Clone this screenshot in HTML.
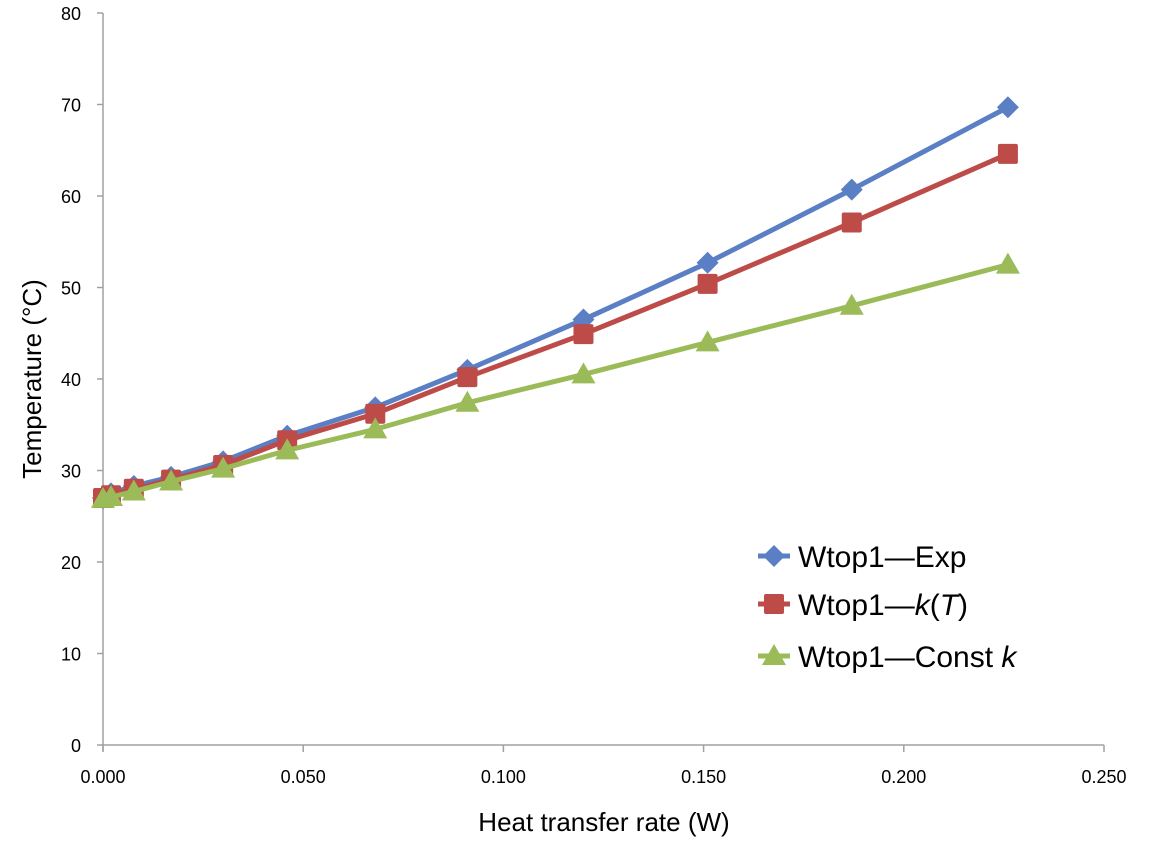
<!DOCTYPE html>
<html><head><meta charset="utf-8"><style>
html,body{margin:0;padding:0;background:#fff;}
svg{display:block;font-family:"Liberation Sans","DejaVu Sans",sans-serif;}
</style></head><body>
<svg id="chart" width="1150" height="851" viewBox="0 0 1150 851"></svg>
<script>
const xValues=[0.000,0.002,0.0077,0.017,0.030,0.046,0.068,0.091,0.120,0.151,0.187,0.226];
const expValues=[27.0,27.5,28.3,29.3,31.0,33.8,36.9,41.0,46.5,52.7,60.7,69.7];
const ktValues=[27.0,27.3,28.0,29.0,30.6,33.3,36.2,40.2,44.9,50.4,57.1,64.6];
const constValues=[26.9,27.1,27.7,28.8,30.2,32.2,34.5,37.4,40.5,44.0,48.0,52.5];
const xTicks=["0.000","0.050","0.100","0.150","0.200","0.250"];
const xTickVals=[0,0.05,0.1,0.15,0.2,0.25];
const yTicks=[0,10,20,30,40,50,60,70,80];

const NS="http://www.w3.org/2000/svg";
const svg=document.getElementById('chart');
const X0=103,X1=1104,Y0=745,Y1=13;
function sx(v){return X0+(v/0.25)*(X1-X0);}
function sy(v){return Y0-(v/80)*(Y0-Y1);}
function mk(tag,attrs,parent){const e=document.createElementNS(NS,tag);for(const k in attrs)e.setAttribute(k,attrs[k]);(parent||svg).appendChild(e);return e;}

const axes=mk('g',{});


const xa=mk('line',{x1:X0,y1:Y0,x2:X1,y2:Y0,stroke:'#a0a0a0','stroke-width':1.5},axes);


const ya=mk('line',{x1:X0,y1:Y0+6,x2:X0,y2:Y1,stroke:'#a0a0a0','stroke-width':1.5},axes);


yTicks.forEach(v=>{
  mk('line',{x1:X0-6,y1:sy(v),x2:X0,y2:sy(v),stroke:'#a0a0a0','stroke-width':1.5},axes);
  const t=mk('text',{x:X0-22,y:sy(v)+7,'text-anchor':'end','font-size':18,fill:'#000'},axes);
  t.textContent=v;
  
  
});
xTickVals.forEach((v,i)=>{
  mk('line',{x1:sx(v),y1:Y0,x2:sx(v),y2:Y0+7,stroke:'#a0a0a0','stroke-width':1.5},axes);
  const t=mk('text',{x:sx(v),y:Y0+38,'text-anchor':'middle','font-size':18,fill:'#000'},axes);
  t.textContent=xTicks[i];
  
  
});
const xt=mk('text',{x:604,y:831,'text-anchor':'middle','font-size':26,fill:'#000'});
xt.textContent='Heat transfer rate (W)';


const yt=mk('text',{x:0,y:0,'text-anchor':'middle','font-size':26,fill:'#000',transform:'translate(41,379) rotate(-90)'});
yt.textContent='Temperature (°C)';



function marker(shape,cx,cy,color,g){
  if(shape==='diamond') return mk('polygon',{points:`${cx},${cy-11} ${cx+11},${cy} ${cx},${cy+11} ${cx-11},${cy}`,fill:color},g);
  if(shape==='square') return mk('rect',{x:cx-10,y:cy-10,width:20,height:20,rx:2,fill:color},g);
  return mk('polygon',{points:`${cx},${cy-12} ${cx+12},${cy+9} ${cx-12},${cy+9}`,fill:color},g);
}
const series=[
 {name:'series-exp',vals:expValues,color:'#5b7fc4',shape:'diamond'},
 {name:'series-kt',vals:ktValues,color:'#bd4b48',shape:'square'},
 {name:'series-const-k',vals:constValues,color:'#9bbb59',shape:'triangle'}
];
series.forEach(s=>{
  const g=mk('g',{});
  
  
  const pts=s.vals.map((v,i)=>sx(xValues[i])+','+sy(v)).join(' ');
  const pl=mk('polyline',{points:pts,fill:'none',stroke:s.color,'stroke-width':5,'stroke-linejoin':'round'},g);
  
  
  s.vals.forEach((v,i)=>{
    const m=marker(s.shape,sx(xValues[i]),sy(v),s.color,g);
    
    
  });
});

const legend=mk('g',{});


const leg=[
 {label:'Wtop1—Exp',color:'#5b7fc4',shape:'diamond',y:556},
 {label:'Wtop1—<tspan font-style="italic">k</tspan>(<tspan font-style="italic">T</tspan>)',color:'#bd4b48',shape:'square',y:604},
 {label:'Wtop1—Const <tspan font-style="italic">k</tspan>',color:'#9bbb59',shape:'triangle',y:656}
];
leg.forEach(l=>{
  const g=mk('g',{},legend);
  
  
  mk('line',{x1:758,y1:l.y,x2:790,y2:l.y,stroke:l.color,'stroke-width':5},g);
  marker(l.shape,774,l.y,l.color,g);
  const t=mk('text',{x:798,y:l.y+11,'font-size':30,fill:'#000'},g);
  t.innerHTML=l.label;
});
</script>
</body></html>
